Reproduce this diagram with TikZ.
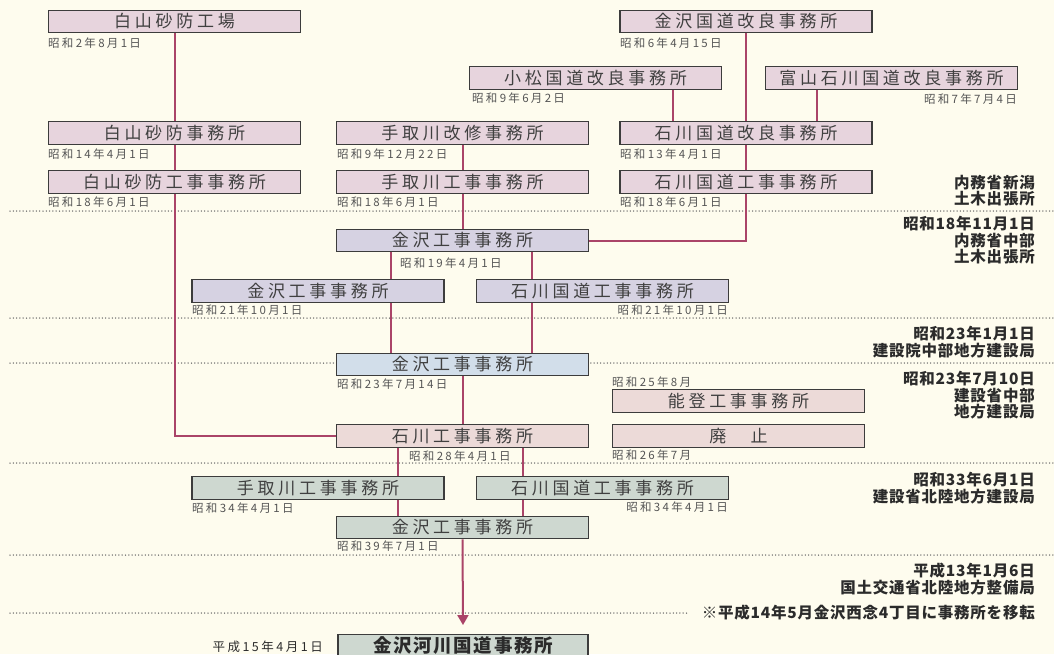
\documentclass[tikz,border=0pt]{standalone}
\usepackage{fontspec}
\setmainfont{Noto Sans CJK JP}
\newfontfamily\boxfont[LetterSpace=22]{Noto Sans CJK JP}
\newfontfamily\datefont[LetterSpace=20]{Noto Sans CJK JP}
\newfontfamily\erafont[LetterSpace=5]{Noto Sans CJK JP}
\newfontfamily\kawafont[LetterSpace=9]{Noto Sans CJK JP}
\usetikzlibrary{arrows.meta,backgrounds}

\definecolor{bgcream}{RGB}{254,252,238}
\definecolor{cPink}{RGB}{231,212,221}
\definecolor{cLilac}{RGB}{214,210,226}
\definecolor{cBlue}{RGB}{210,222,234}
\definecolor{cRose}{RGB}{236,218,216}
\definecolor{cSage}{RGB}{206,216,208}
\definecolor{boxline}{RGB}{60,60,60}
\definecolor{boxtext}{RGB}{64,64,64}
\definecolor{datetext}{RGB}{85,85,85}
\definecolor{eratext}{RGB}{43,43,43}
\definecolor{linkred}{RGB}{170,68,104}
\definecolor{dotgray}{RGB}{105,105,105}

\begin{document}
\begin{tikzpicture}[x=1pt, y=-1pt,
  office/.style={draw=boxline, line width=1.4pt, minimum width=252pt,
    minimum height=22.5pt, inner sep=0pt, text=boxtext,
    font=\boxfont\fontsize{17}{17}\selectfont},
  pinkbox/.style={office, fill=cPink},
  lilacbox/.style={office, fill=cLilac},
  bluebox/.style={office, fill=cBlue},
  rosebox/.style={office, fill=cRose},
  sagebox/.style={office, fill=cSage},
  date/.style={inner sep=0pt, text=datetext,
    font=\datefont\fontsize{11.5}{11.5}\selectfont},
  era/.style={inner sep=0pt, align=right, text=eratext, anchor=north east,
    font=\erafont\bfseries\fontsize{15.5}{16.5}\selectfont},
  link/.style={draw=linkred, line width=2pt},
  period/.style={draw=dotgray, line width=1.5pt, dash pattern=on 0pt off 3.3pt, line cap=round}]

  \useasboundingbox (0,0) rectangle (1054,654);
  \clip (0,0) rectangle (1054,654);

  % 事務所
  \node[pinkbox] (hakusanKojo)     at (174.5,21.5) {白山砂防工場};
  \node[pinkbox] (kanazawaKairyo)  at (746,21.5)   {金沢国道改良事務所};
  \node[pinkbox] (komatsuKairyo)   at (595.5,78)   {小松国道改良事務所};
  \node[pinkbox] (toyamaKairyo)    at (891.5,78)   {富山石川国道改良事務所};
  \node[pinkbox] (hakusanJimusho)  at (174.5,133)  {白山砂防事務所};
  \node[pinkbox] (tedoriKaishu)    at (462.5,133)  {手取川改修事務所};
  \node[pinkbox] (ishikawaKairyo)  at (746,133)    {石川国道改良事務所};
  \node[pinkbox] (hakusanKoji)     at (174.5,182)  {白山砂防工事事務所};
  \node[pinkbox] (tedoriKoji)      at (462.5,182)  {手取川工事事務所};
  \node[pinkbox] (ishikawaKokudoA) at (746,182)    {石川国道工事事務所};
  \node[lilacbox] (kanazawaA)       at (462.5,240.5) {金沢工事事務所};
  \node[lilacbox] (kanazawaB)       at (318,291)     {金沢工事事務所};
  \node[lilacbox] (ishikawaKokudoB) at (602.5,291)   {石川国道工事事務所};
  \node[bluebox] (kanazawaC)        at (462.5,364.5) {金沢工事事務所};
  \node[rosebox] (notoKoji)         at (738.5,401)   {能登工事事務所};
  \node[rosebox] (ishikawaKoji)     at (462.5,436)   {石川工事事務所};
  \node[rosebox] (haishi)           at (738.5,436)   {廃　止};
  \node[sagebox] (tedoriKojiB)      at (318,488)     {手取川工事事務所};
  \node[sagebox] (ishikawaKokudoC)  at (602.5,488)   {石川国道工事事務所};
  \node[sagebox] (kanazawaD)        at (462.5,527.5) {金沢工事事務所};
  \node[sagebox, minimum width=250pt, text=eratext,
    font=\kawafont\bfseries\fontsize{18.5}{18.5}\selectfont] (kawaKokudo) at (463,646) {金沢河川国道事務所};

  % 日付
  \node[date, anchor=west] (dHakusanKojo)     at (48,43)   {昭和2年8月1日};
  \node[date, anchor=west] (dKanazawaKairyo)  at (620,43)  {昭和6年4月15日};
  \node[date, anchor=west] (dKomatsuKairyo)   at (472,98)  {昭和9年6月2日};
  \node[date, anchor=east] (dToyamaKairyo)    at (1017,99) {昭和7年7月4日};
  \node[date, anchor=west] (dHakusanJimusho)  at (48,154)  {昭和14年4月1日};
  \node[date, anchor=west] (dTedoriKaishu)    at (337,154) {昭和9年12月22日};
  \node[date, anchor=west] (dIshikawaKairyo)  at (620,154) {昭和13年4月1日};
  \node[date, anchor=west] (dHakusanKoji)     at (48,202)  {昭和18年6月1日};
  \node[date, anchor=west] (dTedoriKoji)      at (337,202) {昭和18年6月1日};
  \node[date, anchor=west] (dIshikawaKokudoA) at (620,202) {昭和18年6月1日};
  \node[date, anchor=west] (dKanazawaA)       at (400,263) {昭和19年4月1日};
  \node[date, anchor=west] (dKanazawaB)       at (192,310) {昭和21年10月1日};
  \node[date, anchor=east] (dIshikawaKokudoB) at (728,310) {昭和21年10月1日};
  \node[date, anchor=west] (dKanazawaC)       at (337,384) {昭和23年7月14日};
  \node[date, anchor=west] (dNotoKoji)        at (612,382) {昭和25年8月};
  \node[date, anchor=west] (dIshikawaKoji)    at (409,456) {昭和28年4月1日};
  \node[date, anchor=west] (dHaishi)          at (612,455) {昭和26年7月};
  \node[date, anchor=west] (dTedoriKojiB)     at (192,508) {昭和34年4月1日};
  \node[date, anchor=east] (dIshikawaKokudoC) at (728,507) {昭和34年4月1日};
  \node[date, anchor=west] (dKanazawaD)       at (337,546) {昭和39年7月1日};
  \node[date, anchor=east, text=eratext,
    font=\datefont\fontsize{12.5}{12.5}\selectfont] (dKawaKokudo) at (323,647) {平成15年4月1日};

  % 所管
  \node[era] (eraNiigata)   at (1035,175) {内務省新潟\\土木出張所};
  \node[era] (eraChubu)     at (1035,216) {昭和18年11月1日\\内務省中部\\土木出張所};
  \node[era] (eraKensetsuin) at (1035,326) {昭和23年1月1日\\建設院中部地方建設局};
  \node[era] (eraKensetsu)  at (1035,371) {昭和23年7月10日\\建設省中部\\地方建設局};
  \node[era] (eraHokuriku)  at (1035,472) {昭和33年6月1日\\建設省北陸地方建設局};
  \node[era] (eraKokudo)    at (1035,563) {平成13年1月6日\\国土交通省北陸地方整備局};
  \node[era, anchor=east] (noteIten) at (1035,613) {※平成14年5月金沢西念4丁目に事務所を移転};

  \begin{scope}[on background layer]
    \fill[bgcream] (0,0) rectangle (1054,654);
    \foreach \y in {211,318,363,463,555}
      \draw[period] (10,\y) -- (1054,\y);
    \draw[period] (10,613) -- (noteIten.west -| 688,0);

    \draw[link] (hakusanKojo.south) |- (ishikawaKoji.west);
    \draw[link] (kanazawaKairyo.south) |- (kanazawaA.east);
    \draw[link] (komatsuKairyo.south -| 673,0) -- (ishikawaKairyo.north -| 673,0);
    \draw[link] (toyamaKairyo.south -| 817,0) -- (ishikawaKairyo.north -| 817,0);
    \draw[link] (tedoriKaishu.south) -- (kanazawaA.north);
    \draw[link] (kanazawaA.south -| 391,0) -- (kanazawaC.north -| 391,0);
    \draw[link] (kanazawaA.south -| 532,0) -- (kanazawaC.north -| 532,0);
    \draw[link] (kanazawaC.south) -- (ishikawaKoji.north);
    \draw[link] (ishikawaKoji.south -| 398,0) -- (kanazawaD.north -| 398,0);
    \draw[link] (ishikawaKoji.south -| 523,0) -- (kanazawaD.north -| 523,0);
    \draw[link, -{Triangle[length=10pt,width=11pt]}] (kanazawaD.south) -- ([yshift=9pt]kawaKokudo.north);
  \end{scope}
\end{tikzpicture}
\end{document}
